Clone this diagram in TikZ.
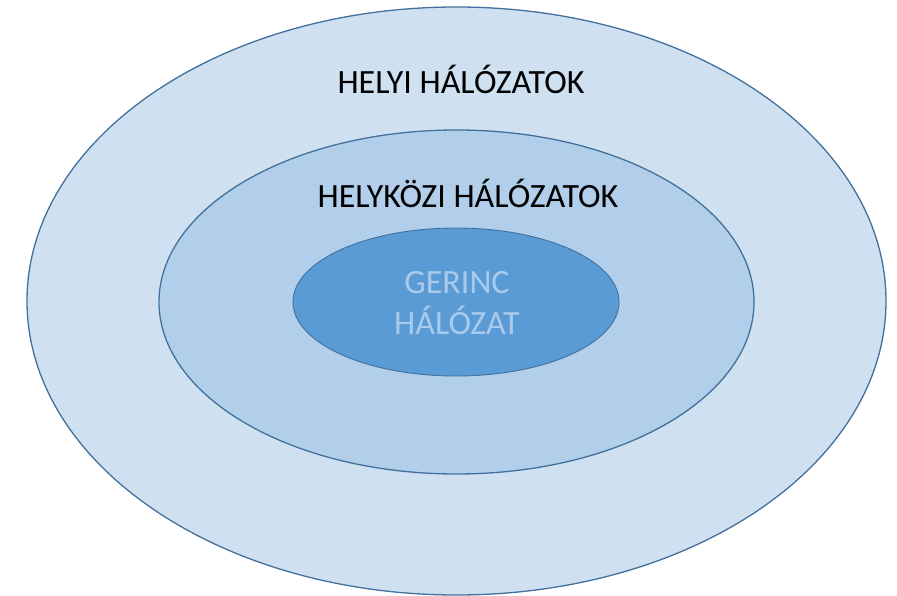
\documentclass[tikz,border=0pt]{standalone}
\usepackage{fontspec}
\setmainfont{Carlito}
\usetikzlibrary{shapes.geometric}
\definecolor{outerfill}{HTML}{CFE0F1}
\definecolor{midfill}{HTML}{B1CEEA}
\definecolor{innerfill}{HTML}{5B9BD5}
\definecolor{edgeblue}{HTML}{41719C}
\definecolor{innertext}{HTML}{A9CAEA}
\tikzset{
  ring/.style={ellipse, draw=edgeblue, line width=1.3pt, inner sep=0pt},
  label/.style={font=\fontsize{34}{40}\selectfont, text=black, inner sep=0pt, align=center}
}
\begin{document}
\begin{tikzpicture}[x=1pt,y=-1pt]
\useasboundingbox (0,0) rectangle (897,596);
\node[ring, fill=outerfill, minimum width=859pt, minimum height=588pt] (outer) at (456.5,301) {};
\node[ring, fill=midfill, minimum width=595pt, minimum height=344pt] (mid) at (456.5,302) {};
\node[ring, fill=innerfill, line width=0.9pt, minimum width=326pt, minimum height=148pt] (inner) at (456,302) {};
\node[label] (t1) at (461,79) {HELYI HÁLÓZATOK};
\node[label] (t2) at (468,193) {HELYKÖZI HÁLÓZATOK};
\node[label, text=innertext, font=\fontsize{34}{41}\selectfont] (t3) at (457,303) {GERINC\\HÁLÓZAT};
\end{tikzpicture}
\end{document}
